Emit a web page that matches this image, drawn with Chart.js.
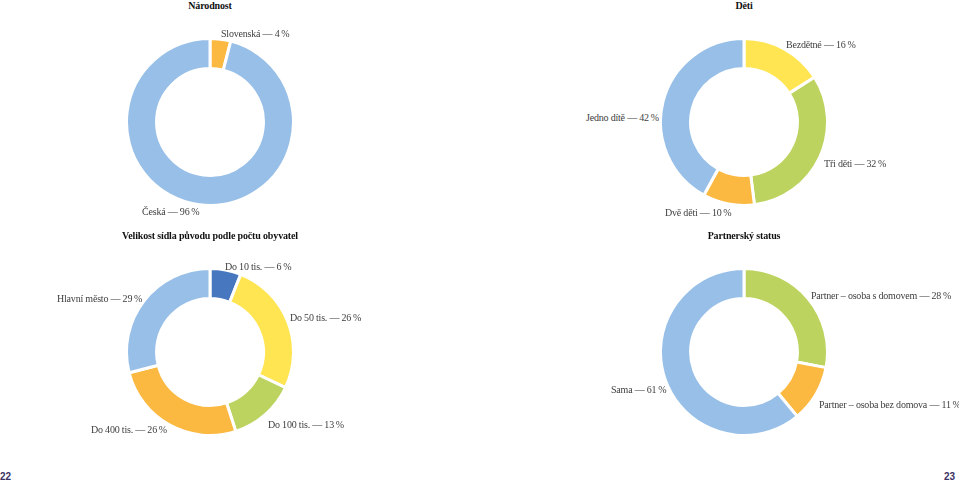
<!DOCTYPE html>
<html lang="cs">
<head>
<meta charset="UTF-8">
<title>Doughnut charts</title>
<script src="https://cdnjs.cloudflare.com/ajax/libs/Chart.js/4.4.1/chart.umd.min.js"></script>
<style>
  body { margin: 0; width: 959px; height: 484px; background: #fff; position: relative; overflow: hidden;
         font-family: "Liberation Serif", "DejaVu Serif", serif; }
  .title { position: absolute; font-weight: bold; font-size: 10px; letter-spacing: -0.15px; color: #111; transform: translateX(-50%); white-space: nowrap; }
  .lbl { position: absolute; font-size: 10px; letter-spacing: -0.2px; color: #404040; white-space: nowrap; transform: translateY(-50%); }
  .box { position: absolute; width: 170px; height: 170px; }
  .pg { position: absolute; top: 471px; font-size: 10px; font-weight: bold; color: #3b3163; font-family: "Liberation Sans", sans-serif; }
</style>
</head>
<body>
<script>
// Národnost
const narodnostLabels = ['Slovenská', 'Česká'];
const narodnostValues = [4, 96];
// Děti
const detiLabels = ['Bezdětné', 'Tři děti', 'Dvě děti', 'Jedno dítě'];
const detiValues = [16, 32, 10, 42];
// Velikost sídla
const sidloLabels = ['Do 10 tis.', 'Do 50 tis.', 'Do 100 tis.', 'Do 400 tis.', 'Hlavní město'];
const sidloValues = [6, 26, 13, 26, 29];
// Partnerský status
const partnerLabels = ['Partner – osoba s domovem', 'Partner – osoba bez domova', 'Sama'];
const partnerValues = [28, 11, 61];

const C = {
  lightBlue: '#97bfe7',
  orange: '#fbb941',
  yellow: '#ffe552',
  green: '#bcd35f',
  darkBlue: '#4677bf'
};

const charts = [
  { title: 'Národnost', cx: 210, cy: 122, ty: 0, labels: narodnostLabels, values: narodnostValues,
    colors: [C.orange, C.lightBlue],
    pos: [[221, 33], [142, 211]] },
  { title: 'Děti', cx: 744, cy: 122, ty: 0, labels: detiLabels, values: detiValues,
    colors: [C.yellow, C.green, C.orange, C.lightBlue],
    pos: [[786, 44], [824, 163], [665, 212], [586, 117]] },
  { title: 'Velikost sídla původu podle počtu obyvatel', cx: 210, cy: 352, ty: 230, labels: sidloLabels, values: sidloValues,
    colors: [C.darkBlue, C.yellow, C.green, C.orange, C.lightBlue],
    pos: [[225, 266], [290, 317], [268, 424], [91, 429], [57, 298]] },
  { title: 'Partnerský status', cx: 744, cy: 352, ty: 230, labels: partnerLabels, values: partnerValues,
    colors: [C.green, C.orange, C.lightBlue],
    pos: [[811, 295], [819, 404], [611, 389]] }
];

charts.forEach(cfg => {
  const t = document.createElement('div');
  t.className = 'title';
  t.style.left = cfg.cx + 'px';
  t.style.top = cfg.ty + 'px';
  t.textContent = cfg.title;
  document.body.appendChild(t);

  const box = document.createElement('div');
  box.className = 'box';
  box.style.left = (cfg.cx - 85) + 'px';
  box.style.top = (cfg.cy - 85) + 'px';
  const canvas = document.createElement('canvas');
  canvas.width = 170;
  canvas.height = 170;
  box.appendChild(canvas);
  document.body.appendChild(box);

  new Chart(canvas.getContext('2d'), {
    type: 'doughnut',
    data: {
      labels: cfg.labels,
      datasets: [{
        data: cfg.values,
        backgroundColor: cfg.colors,
        borderColor: '#ffffff',
        borderWidth: 3
      }]
    },
    options: {
      responsive: false,
      animation: false,
      cutout: '64%',
      layout: { padding: 0 },
      plugins: { legend: { display: false }, tooltip: { enabled: false } }
    }
  });

  cfg.labels.forEach((name, i) => {
    const d = document.createElement('div');
    d.className = 'lbl';
    d.style.left = cfg.pos[i][0] + 'px';
    d.style.top = cfg.pos[i][1] + 'px';
    d.textContent = name + ' — ' + cfg.values[i] + '\u2009%';
    document.body.appendChild(d);
  });
});

const p1 = document.createElement('div');
p1.className = 'pg'; p1.style.left = '0px'; p1.textContent = '22';
document.body.appendChild(p1);
const p2 = document.createElement('div');
p2.className = 'pg'; p2.style.left = '944px'; p2.textContent = '23';
document.body.appendChild(p2);
</script>
</body>
</html>
